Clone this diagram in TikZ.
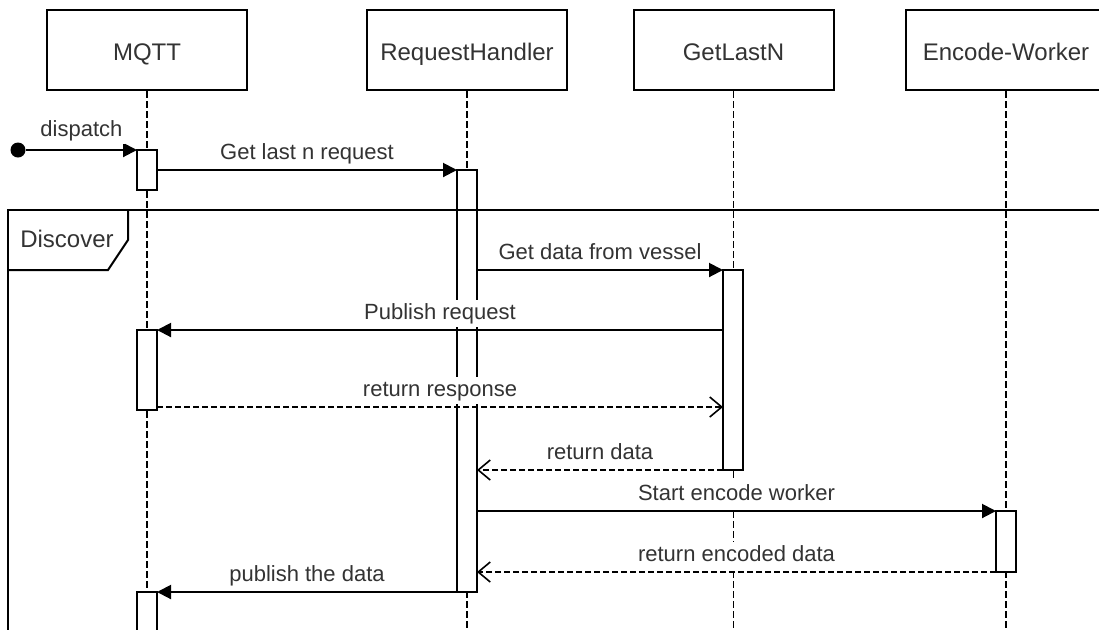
\documentclass[tikz,border=0pt]{standalone}
\usepackage{fontspec}
\setmainfont{Liberation Sans}
\usetikzlibrary{arrows.meta, positioning, calc}
\definecolor{LineDark}{RGB}{0, 0, 0}
\definecolor{TextGray}{RGB}{51, 51, 51}

\tikzset{
  actor/.style={draw=LineDark, fill=white, line width=1pt, minimum width=100pt, minimum height=40pt, inner sep=0pt, text height=11pt, text depth=1pt, font=\fontsize{12}{14}\selectfont, text=TextGray},
  lifeline/.style={draw=LineDark, line width=0.8pt, dash pattern=on 3.5pt off 1.5pt},
  activation/.style={draw=LineDark, fill=white, line width=1pt, minimum width=10pt, inner sep=0pt, outer sep=0pt, anchor=north},
  callmsg/.style={draw=LineDark, line width=1pt, -{Triangle[length=7pt, width=7pt]}},
  returnmsg/.style={draw=LineDark, line width=0.8pt, dash pattern=on 3pt off 1.5pt, -{Straight Barb[length=6pt, width=10pt]}},
  msglabel/.style={fill=white, inner sep=1.5pt, text height=8pt, text depth=2.5pt, font=\fontsize{11}{13}\selectfont, text=TextGray},
}

\begin{document}
\begin{tikzpicture}[x=0.5pt, y=-0.5pt]
  \clip (0,0) rectangle (1099,629);

  % Participants
  \node[actor] (mqtt) at (147,50) {MQTT};
  \node[actor] (handler) at (467,50) {RequestHandler};
  \node[actor] (getlastn) at (733.5,50) {GetLastN};
  \node[actor] (encoder) at (1006,50) {Encode-Worker};

  % Lifelines
  \coordinate (bottom) at (0,640);
  \foreach \who in {mqtt, handler, getlastn, encoder}
    \draw[lifeline] (\who.south) -- (\who.south |- bottom);

  % Activation bars
  \node[activation, minimum height=20pt] (actMqttA) at (147,150) {};
  \node[activation, minimum height=211pt] (actHandler) at (467,170) {};
  \node[activation, minimum height=100pt] (actGetLast) at (733,270) {};
  \node[activation, minimum height=40pt] (actMqttB) at (147,330) {};
  \node[activation, minimum height=30.5pt] (actEncoder) at (1006,511) {};
  \node[activation, minimum height=40pt] (actMqttC) at (147,592) {};

  % Discover frame
  \draw[LineDark, line width=1pt] (8,640) -- (8,210) -- (1110,210);
  \draw[LineDark, line width=1pt] (8,270) -- (108,270) -- (128,240) -- (128,210);
  \node[font=\fontsize{12}{14}\selectfont, text=TextGray] (discover) at (67,239) {Discover};

  % Messages
  \node[circle, fill=LineDark, minimum size=7.5pt, inner sep=0pt] (start) at (18,150) {};
  \draw[callmsg] (start) -- (actMqttA.north west) node[msglabel, midway, above=2.5pt] {dispatch};
  \draw[callmsg] (actMqttA.east |- actHandler.north) -- (actHandler.north west) node[msglabel, midway, above=1pt] {Get last n request};
  \draw[callmsg] (actHandler.east |- actGetLast.north) -- (actGetLast.north west) node[msglabel, midway, above=1pt] {Get data from vessel};
  \draw[callmsg] (actGetLast.west |- actMqttB.north) -- (actMqttB.north east) node[msglabel, midway, above=1pt] {Publish request};
  \coordinate (respY) at (0,407);
  \draw[returnmsg] (actMqttB.east |- respY) -- (actGetLast.west |- respY) node[msglabel, midway, above=1pt] {return response};
  \draw[returnmsg] (actGetLast.south west) -- (actHandler.east |- actGetLast.south) node[msglabel, midway, above=1pt] {return data};
  \draw[callmsg] (actHandler.east |- actEncoder.north) -- (actEncoder.north west) node[msglabel, midway, above=1pt] {Start encode worker};
  \draw[returnmsg] (actEncoder.south west) -- (actHandler.east |- actEncoder.south) node[msglabel, midway, above=1pt] {return encoded data};
  \draw[callmsg] (actHandler.south west) -- (actMqttC.north east) node[msglabel, midway, above=1pt] {publish the data};
\end{tikzpicture}
\end{document}
